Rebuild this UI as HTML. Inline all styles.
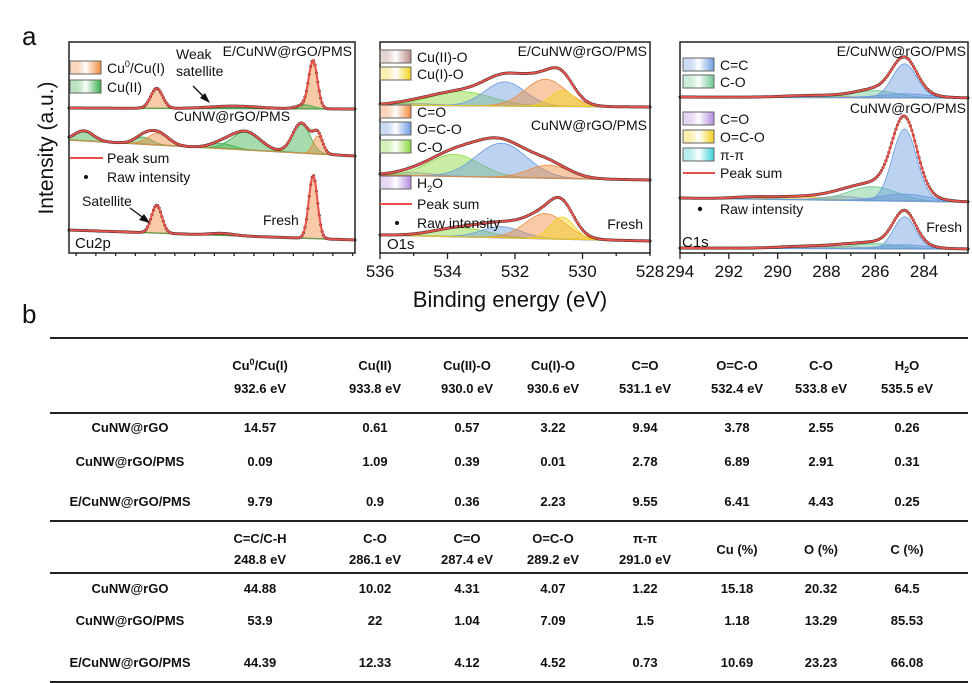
<!DOCTYPE html>
<html><head><meta charset="utf-8"><style>
body{margin:0;background:#fff;width:972px;height:683px;overflow:hidden;position:relative;font-family:"Liberation Sans",sans-serif}
svg{position:absolute;left:0;top:0}
</style></head><body>
<svg id="s" width="972" height="683" xmlns="http://www.w3.org/2000/svg" font-family="Liberation Sans, sans-serif"></svg>
<script>
const S=document.getElementById('s');let out='';
function g(x,c,h,s){return h*Math.exp(-((x-c)*(x-c))/(2*s*s));}
const col={or:'#f08a3c',gr:'#3cb04a',bl:'#6b9be0',ye:'#f2d21a',pu:'#b58be0',cy:'#3ad0d8',br:'#b88a80',lg:'#8ad83a',sg:'#6cc890'};
function panel(x0,x1,e0,e1,specs){
 const X=e=>x0+(e0-e)/(e0-e1)*(x1-x0);
 specs.forEach(sp=>{
  const B=e=>sp.bl+(sp.br-sp.bl)*(e0-e)/(e0-e1);
  out+=`<line x1="${x0}" y1="${sp.bl}" x2="${x1}" y2="${sp.br}" stroke="#888" stroke-width="1.5"/>`;
  sp.c.forEach(c=>{let d='M'+X(e0)+','+B(e0);for(let i=0;i<=300;i++){let e=e0+(e1-e0)*i/300;d+=' L'+X(e).toFixed(1)+','+(B(e)-g(e,c[0],c[1],c[2])).toFixed(1);}d+=' Z';
   out+=`<path d="${d}" fill="${col[c[3]]}" fill-opacity="0.45" stroke="${col[c[3]]}" stroke-width="0.8"/>`;});
  let pts=[];for(let i=0;i<=400;i++){let e=e0+(e1-e0)*i/400;let y=B(e);sp.c.forEach(c=>y-=g(e,c[0],c[1],c[2]));pts.push([X(e),y]);}
  for(let i=0;i<pts.length;i+=2)out+=`<circle cx="${pts[i][0].toFixed(1)}" cy="${pts[i][1].toFixed(1)}" r="1.5" fill="#222"/>`;
  out+=`<path d="M${pts.map(p=>p[0].toFixed(1)+','+p[1].toFixed(1)).join(' L')}" fill="none" stroke="#e8504a" stroke-width="2"/>`;
 });
}
panel(69,355,963.9,927.7,[
 {bl:108,br:109,c:[[933,46,0.55,'or'],[952.8,20,0.75,'or'],[934,4,1,'gr'],[943,2.5,3,'gr']]},
 {bl:140,br:156,c:[[962,10,1.2,'gr'],[954.5,7,1.1,'gr'],[952.6,12,1.3,'or'],[941.5,18,1.8,'gr'],[944.5,5,1.5,'gr'],[934.5,30,1.1,'gr'],[932.4,18,0.6,'or']]},
 {bl:230,br:240,c:[[933,63,0.55,'or'],[952.8,28,0.65,'or'],[944.5,2,1.5,'gr']]}]);
panel(380,650,536,528,[
 {bl:105,br:107,c:[[535,2,0.6,'pu'],[533.6,14,0.9,'lg'],[532.3,24,0.6,'bl'],[531.1,27,0.6,'or'],[530.6,16,0.35,'ye']]},
 {bl:175,br:180,c:[[535,3,0.6,'pu'],[533.8,22,0.75,'lg'],[532.4,34,0.75,'bl'],[531.0,13,0.6,'or']]},
 {bl:235,br:241,c:[[533.6,9,0.8,'lg'],[532.4,11,0.6,'bl'],[531.1,25,0.6,'or'],[530.6,22,0.35,'ye']]}]);
panel(680,968,294,282.2,[
 {bl:97,br:98,c:[[288.5,2,1.2,'or'],[286,7,0.9,'sg'],[284.8,34,0.5,'bl'],[284.8,4,1.0,'bl']]},
 {bl:198,br:202,c:[[291,2,0.8,'cy'],[289,3,1,'ye'],[287.4,4,0.8,'pu'],[286.1,14,1.0,'sg'],[284.8,72,0.5,'bl'],[284.8,7,1.0,'bl']]},
 {bl:248,br:249,c:[[289,2,1,'ye'],[287.4,2,0.8,'pu'],[286,5,1,'sg'],[284.8,32,0.45,'bl'],[284.8,4,0.9,'bl']]}]);
function axes(x0,x1,e0,e1,major,minor,labs){
 const X=e=>x0+(e0-e)/(e0-e1)*(x1-x0);
 out+=`<rect x="${x0}" y="42" width="${x1-x0}" height="211" fill="none" stroke="#222" stroke-width="1.5"/>`;
 for(let e=Math.ceil(Math.min(e0,e1));e<=Math.max(e0,e1);e+=minor){let v=Math.round(e*10)/10;let isM=labs.includes(v);
  out+=`<line x1="${X(v)}" y1="253" x2="${X(v)}" y2="${isM?259:256}" stroke="#222" stroke-width="1.3"/>`;
  if(isM)out+=`<text x="${X(v)}" y="277" font-size="17" text-anchor="middle" fill="#111">${v}</text>`;}
}
axes(69,355,963.9,927.7,5,2.5,[960,955,950,945,940,935,930]);
axes(380,650,536,528,2,1,[536,534,532,530]);
out+=`<text x="650" y="277" font-size="17" text-anchor="middle" fill="#111">528</text>`;
axes(680,968,294,282.2,2,1,[294,292,290,288,286,284]);
function box(x,y,c){out+=`<defs><linearGradient id="g${x}${y}" x1="0" y1="0" x2="1" y2="0"><stop offset="0" stop-color="${c}" stop-opacity=".3"/><stop offset=".5" stop-color="#fff"/><stop offset="1" stop-color="${c}"/></linearGradient></defs><rect x="${x}" y="${y}" width="31" height="13" fill="url(#g${x}${y})" stroke="#666" stroke-width="1"/>`;}
function t(x,y,s,fs,a){out+=`<text x="${x}" y="${y}" font-size="${fs||14}" fill="#111" ${a?'text-anchor="'+a+'"':''}>${s}</text>`;}
box(70,61,col.or);t(107,73,'Cu<tspan font-size="9" dy="-6">0</tspan><tspan dy="6">/Cu(I)</tspan>');
box(70,80,col.gr);t(107,92,'Cu(II)');
t(176,59,'Weak');t(176,76,'satellite');
out+=`<line x1="193" y1="86" x2="206" y2="99" stroke="#111" stroke-width="1.3"/><polygon points="210,103 200,98 205,93" fill="#111"/>`;
t(352,56,'E/CuNW@rGO/PMS',14,'end');t(232,121,'CuNW@rGO/PMS',14,'middle');
out+=`<line x1="70" y1="158" x2="103" y2="158" stroke="#e8504a" stroke-width="2"/>`;t(107,163,'Peak sum');
out+=`<circle cx="86" cy="177" r="2" fill="#111"/>`;t(107,182,'Raw intensity');
t(82,206,'Satellite');out+=`<line x1="130" y1="208" x2="145" y2="219" stroke="#111" stroke-width="1.3"/><polygon points="150,223 139,220 144,214" fill="#111"/>`;
t(263,225,'Fresh');t(75,248,'Cu2p',15);
box(380,50,col.br);t(417,62,'Cu(II)-O');box(380,67,col.ye);t(417,79,'Cu(I)-O');
box(380,105,col.or);t(417,117,'C=O');box(380,122,col.bl);t(417,134,'O=C-O');box(380,140,col.lg);t(417,152,'C-O');
box(380,176,col.pu);t(417,188,'H<tspan font-size="9" dy="4">2</tspan><tspan dy="-4">O</tspan>');
out+=`<line x1="380" y1="204" x2="412" y2="204" stroke="#e8504a" stroke-width="2"/>`;t(417,209,'Peak sum');
out+=`<circle cx="397" cy="223" r="2" fill="#111"/>`;t(417,228,'Raw intensity');
t(647,56,'E/CuNW@rGO/PMS',14,'end');t(647,130,'CuNW@rGO/PMS',14,'end');t(643,229,'Fresh',14,'end');t(387,249,'O1s',15);
box(683,58,col.bl);t(720,70,'C=C');box(683,75,col.sg);t(720,87,'C-O');
box(683,112,col.pu);t(720,124,'C=O');box(683,130,col.ye);t(720,142,'O=C-O');box(683,148,col.cy);t(720,160,'π-π');
out+=`<line x1="683" y1="173" x2="715" y2="173" stroke="#e8504a" stroke-width="2"/>`;t(720,178,'Peak sum');
out+=`<circle cx="700" cy="209" r="2.2" fill="#111"/>`;t(720,214,'Raw intensity');
t(966,56,'E/CuNW@rGO/PMS',14,'end');t(966,113,'CuNW@rGO/PMS',14,'end');t(962,232,'Fresh',14,'end');t(682,247,'C1s',15);
out+=`<text x="22" y="45" font-size="26" fill="#111">a</text><text x="22" y="323" font-size="26" fill="#111">b</text>`;
out+=`<text transform="translate(53,148) rotate(-90)" font-size="21" text-anchor="middle" fill="#111">Intensity (a.u.)</text>`;
out+=`<text x="510" y="307" font-size="22" text-anchor="middle" fill="#111">Binding energy (eV)</text>`;
[338,413,521,573,682].forEach(y=>out+=`<line x1="50" y1="${y}" x2="968" y2="${y}" stroke="#222" stroke-width="2"/>`);
const cx=[130,260,375,467,553,645,737,821,907];
function row(y,a){a.forEach((s,i)=>{if(s!=='')out+=`<text x="${cx[i]}" y="${y}" font-size="13" font-weight="bold" text-anchor="middle" fill="#111">${s}</text>`;});}
row(370,['','Cu<tspan font-size="9" dy="-5">0</tspan><tspan dy="5">/Cu(I)</tspan>','Cu(II)','Cu(II)-O','Cu(I)-O','C=O','O=C-O','C-O','H<tspan font-size="9" dy="3">2</tspan><tspan dy="-3">O</tspan>']);
row(393,['','932.6 eV','933.8 eV','930.0 eV','930.6 eV','531.1 eV','532.4 eV','533.8 eV','535.5 eV']);
row(432,['CuNW@rGO','14.57','0.61','0.57','3.22','9.94','3.78','2.55','0.26']);
row(466,['CuNW@rGO/PMS','0.09','1.09','0.39','0.01','2.78','6.89','2.91','0.31']);
row(506,['E/CuNW@rGO/PMS','9.79','0.9','0.36','2.23','9.55','6.41','4.43','0.25']);
row(543,['','C=C/C-H','C-O','C=O','O=C-O','π-π','','','']);
row(564,['','248.8 eV','286.1 eV','287.4 eV','289.2 eV','291.0 eV','','','']);
row(554,['','','','','','','Cu (%)','O (%)','C (%)']);
row(593,['CuNW@rGO','44.88','10.02','4.31','4.07','1.22','15.18','20.32','64.5']);
row(625,['CuNW@rGO/PMS','53.9','22','1.04','7.09','1.5','1.18','13.29','85.53']);
row(667,['E/CuNW@rGO/PMS','44.39','12.33','4.12','4.52','0.73','10.69','23.23','66.08']);
S.innerHTML=out;
</script>
</body></html>
